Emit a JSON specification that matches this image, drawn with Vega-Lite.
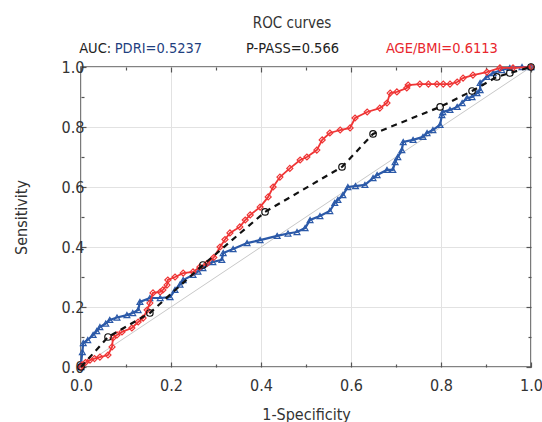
{
  "$schema": "https://vega.github.io/schema/vega-lite/v6.json",
  "width": 450,
  "height": 300,
  "autosize": "none",
  "padding": {"left": 81, "top": 67, "right": 11, "bottom": 55},
  "config": {
    "font": "Liberation Sans Narrow, DejaVu Sans Condensed, Arial Narrow, sans-serif",
    "view": {"stroke": "#5a5a5a", "strokeWidth": 1.6},
    "axis": {"labelFont": "Liberation Sans Narrow, DejaVu Sans Condensed, sans-serif", "titleFont": "Liberation Sans Narrow, DejaVu Sans Condensed, sans-serif"}
  },
  "datasets": {
    "diag": [{"fpr": 0, "tpr": 0}, {"fpr": 1, "tpr": 1}],
    "roc": [
      {"series": "PDRI", "fpr": 0, "tpr": 0},
      {"series": "PDRI", "fpr": 0, "tpr": 0.01},
      {"series": "PDRI", "fpr": 0.003, "tpr": 0.05},
      {"series": "PDRI", "fpr": 0.005, "tpr": 0.08},
      {"series": "PDRI", "fpr": 0.015, "tpr": 0.09},
      {"series": "PDRI", "fpr": 0.027, "tpr": 0.107},
      {"series": "PDRI", "fpr": 0.035, "tpr": 0.12},
      {"series": "PDRI", "fpr": 0.042, "tpr": 0.133},
      {"series": "PDRI", "fpr": 0.055, "tpr": 0.145},
      {"series": "PDRI", "fpr": 0.064, "tpr": 0.157},
      {"series": "PDRI", "fpr": 0.08, "tpr": 0.165},
      {"series": "PDRI", "fpr": 0.102, "tpr": 0.173},
      {"series": "PDRI", "fpr": 0.115, "tpr": 0.18},
      {"series": "PDRI", "fpr": 0.127, "tpr": 0.19},
      {"series": "PDRI", "fpr": 0.131, "tpr": 0.217},
      {"series": "PDRI", "fpr": 0.153, "tpr": 0.23},
      {"series": "PDRI", "fpr": 0.176, "tpr": 0.23},
      {"series": "PDRI", "fpr": 0.198, "tpr": 0.233},
      {"series": "PDRI", "fpr": 0.209, "tpr": 0.257},
      {"series": "PDRI", "fpr": 0.22, "tpr": 0.275},
      {"series": "PDRI", "fpr": 0.227, "tpr": 0.29},
      {"series": "PDRI", "fpr": 0.249, "tpr": 0.307},
      {"series": "PDRI", "fpr": 0.26, "tpr": 0.318},
      {"series": "PDRI", "fpr": 0.271, "tpr": 0.33},
      {"series": "PDRI", "fpr": 0.293, "tpr": 0.35},
      {"series": "PDRI", "fpr": 0.313, "tpr": 0.357},
      {"series": "PDRI", "fpr": 0.316, "tpr": 0.38},
      {"series": "PDRI", "fpr": 0.338, "tpr": 0.393},
      {"series": "PDRI", "fpr": 0.369, "tpr": 0.413},
      {"series": "PDRI", "fpr": 0.398, "tpr": 0.423},
      {"series": "PDRI", "fpr": 0.436, "tpr": 0.437},
      {"series": "PDRI", "fpr": 0.46, "tpr": 0.445},
      {"series": "PDRI", "fpr": 0.48, "tpr": 0.45},
      {"series": "PDRI", "fpr": 0.498, "tpr": 0.463},
      {"series": "PDRI", "fpr": 0.509, "tpr": 0.49},
      {"series": "PDRI", "fpr": 0.531, "tpr": 0.503},
      {"series": "PDRI", "fpr": 0.553, "tpr": 0.52},
      {"series": "PDRI", "fpr": 0.564, "tpr": 0.547},
      {"series": "PDRI", "fpr": 0.571, "tpr": 0.557},
      {"series": "PDRI", "fpr": 0.582, "tpr": 0.573},
      {"series": "PDRI", "fpr": 0.593, "tpr": 0.6},
      {"series": "PDRI", "fpr": 0.61, "tpr": 0.603},
      {"series": "PDRI", "fpr": 0.631, "tpr": 0.607},
      {"series": "PDRI", "fpr": 0.649, "tpr": 0.63},
      {"series": "PDRI", "fpr": 0.658, "tpr": 0.64},
      {"series": "PDRI", "fpr": 0.68, "tpr": 0.657},
      {"series": "PDRI", "fpr": 0.693, "tpr": 0.657},
      {"series": "PDRI", "fpr": 0.698, "tpr": 0.683},
      {"series": "PDRI", "fpr": 0.704, "tpr": 0.7},
      {"series": "PDRI", "fpr": 0.713, "tpr": 0.723},
      {"series": "PDRI", "fpr": 0.716, "tpr": 0.75},
      {"series": "PDRI", "fpr": 0.738, "tpr": 0.757},
      {"series": "PDRI", "fpr": 0.76, "tpr": 0.767},
      {"series": "PDRI", "fpr": 0.769, "tpr": 0.78},
      {"series": "PDRI", "fpr": 0.782, "tpr": 0.79},
      {"series": "PDRI", "fpr": 0.798, "tpr": 0.807},
      {"series": "PDRI", "fpr": 0.802, "tpr": 0.84},
      {"series": "PDRI", "fpr": 0.804, "tpr": 0.85},
      {"series": "PDRI", "fpr": 0.82, "tpr": 0.857},
      {"series": "PDRI", "fpr": 0.836, "tpr": 0.867},
      {"series": "PDRI", "fpr": 0.847, "tpr": 0.88},
      {"series": "PDRI", "fpr": 0.858, "tpr": 0.897},
      {"series": "PDRI", "fpr": 0.869, "tpr": 0.9},
      {"series": "PDRI", "fpr": 0.88, "tpr": 0.913},
      {"series": "PDRI", "fpr": 0.887, "tpr": 0.923},
      {"series": "PDRI", "fpr": 0.887, "tpr": 0.947},
      {"series": "PDRI", "fpr": 0.902, "tpr": 0.967},
      {"series": "PDRI", "fpr": 0.916, "tpr": 0.98},
      {"series": "PDRI", "fpr": 0.935, "tpr": 0.99},
      {"series": "PDRI", "fpr": 0.953, "tpr": 0.997},
      {"series": "PDRI", "fpr": 0.98, "tpr": 1},
      {"series": "PDRI", "fpr": 1, "tpr": 1},

      {"series": "AGE/BMI", "fpr": 0, "tpr": 0},
      {"series": "AGE/BMI", "fpr": 0.002, "tpr": 0.007},
      {"series": "AGE/BMI", "fpr": 0.01, "tpr": 0.015},
      {"series": "AGE/BMI", "fpr": 0.02, "tpr": 0.023},
      {"series": "AGE/BMI", "fpr": 0.03, "tpr": 0.028},
      {"series": "AGE/BMI", "fpr": 0.042, "tpr": 0.033},
      {"series": "AGE/BMI", "fpr": 0.06, "tpr": 0.04},
      {"series": "AGE/BMI", "fpr": 0.069, "tpr": 0.067},
      {"series": "AGE/BMI", "fpr": 0.071, "tpr": 0.097},
      {"series": "AGE/BMI", "fpr": 0.08, "tpr": 0.107},
      {"series": "AGE/BMI", "fpr": 0.091, "tpr": 0.117},
      {"series": "AGE/BMI", "fpr": 0.113, "tpr": 0.13},
      {"series": "AGE/BMI", "fpr": 0.127, "tpr": 0.15},
      {"series": "AGE/BMI", "fpr": 0.138, "tpr": 0.163},
      {"series": "AGE/BMI", "fpr": 0.147, "tpr": 0.19},
      {"series": "AGE/BMI", "fpr": 0.153, "tpr": 0.213},
      {"series": "AGE/BMI", "fpr": 0.16, "tpr": 0.247},
      {"series": "AGE/BMI", "fpr": 0.176, "tpr": 0.25},
      {"series": "AGE/BMI", "fpr": 0.182, "tpr": 0.257},
      {"series": "AGE/BMI", "fpr": 0.191, "tpr": 0.273},
      {"series": "AGE/BMI", "fpr": 0.193, "tpr": 0.29},
      {"series": "AGE/BMI", "fpr": 0.209, "tpr": 0.3},
      {"series": "AGE/BMI", "fpr": 0.227, "tpr": 0.313},
      {"series": "AGE/BMI", "fpr": 0.249, "tpr": 0.317},
      {"series": "AGE/BMI", "fpr": 0.264, "tpr": 0.333},
      {"series": "AGE/BMI", "fpr": 0.28, "tpr": 0.345},
      {"series": "AGE/BMI", "fpr": 0.295, "tpr": 0.365},
      {"series": "AGE/BMI", "fpr": 0.309, "tpr": 0.4},
      {"series": "AGE/BMI", "fpr": 0.32, "tpr": 0.425},
      {"series": "AGE/BMI", "fpr": 0.331, "tpr": 0.447},
      {"series": "AGE/BMI", "fpr": 0.353, "tpr": 0.467},
      {"series": "AGE/BMI", "fpr": 0.365, "tpr": 0.49},
      {"series": "AGE/BMI", "fpr": 0.376, "tpr": 0.507},
      {"series": "AGE/BMI", "fpr": 0.398, "tpr": 0.533},
      {"series": "AGE/BMI", "fpr": 0.416, "tpr": 0.567},
      {"series": "AGE/BMI", "fpr": 0.427, "tpr": 0.6},
      {"series": "AGE/BMI", "fpr": 0.442, "tpr": 0.633},
      {"series": "AGE/BMI", "fpr": 0.464, "tpr": 0.662},
      {"series": "AGE/BMI", "fpr": 0.487, "tpr": 0.69},
      {"series": "AGE/BMI", "fpr": 0.502, "tpr": 0.7},
      {"series": "AGE/BMI", "fpr": 0.524, "tpr": 0.723},
      {"series": "AGE/BMI", "fpr": 0.536, "tpr": 0.757},
      {"series": "AGE/BMI", "fpr": 0.553, "tpr": 0.78},
      {"series": "AGE/BMI", "fpr": 0.576, "tpr": 0.79},
      {"series": "AGE/BMI", "fpr": 0.598, "tpr": 0.797},
      {"series": "AGE/BMI", "fpr": 0.609, "tpr": 0.83},
      {"series": "AGE/BMI", "fpr": 0.636, "tpr": 0.85},
      {"series": "AGE/BMI", "fpr": 0.664, "tpr": 0.863},
      {"series": "AGE/BMI", "fpr": 0.68, "tpr": 0.88},
      {"series": "AGE/BMI", "fpr": 0.687, "tpr": 0.913},
      {"series": "AGE/BMI", "fpr": 0.702, "tpr": 0.917},
      {"series": "AGE/BMI", "fpr": 0.724, "tpr": 0.93},
      {"series": "AGE/BMI", "fpr": 0.727, "tpr": 0.94},
      {"series": "AGE/BMI", "fpr": 0.753, "tpr": 0.943},
      {"series": "AGE/BMI", "fpr": 0.772, "tpr": 0.943},
      {"series": "AGE/BMI", "fpr": 0.791, "tpr": 0.943},
      {"series": "AGE/BMI", "fpr": 0.805, "tpr": 0.943},
      {"series": "AGE/BMI", "fpr": 0.82, "tpr": 0.943},
      {"series": "AGE/BMI", "fpr": 0.836, "tpr": 0.95},
      {"series": "AGE/BMI", "fpr": 0.849, "tpr": 0.963},
      {"series": "AGE/BMI", "fpr": 0.871, "tpr": 0.973},
      {"series": "AGE/BMI", "fpr": 0.902, "tpr": 0.983},
      {"series": "AGE/BMI", "fpr": 0.931, "tpr": 0.997},
      {"series": "AGE/BMI", "fpr": 0.96, "tpr": 0.997},
      {"series": "AGE/BMI", "fpr": 1, "tpr": 1},

      {"series": "P-PASS", "fpr": 0, "tpr": 0},
      {"series": "P-PASS", "fpr": 0.06, "tpr": 0.1},
      {"series": "P-PASS", "fpr": 0.153, "tpr": 0.18},
      {"series": "P-PASS", "fpr": 0.271, "tpr": 0.34},
      {"series": "P-PASS", "fpr": 0.409, "tpr": 0.517},
      {"series": "P-PASS", "fpr": 0.58, "tpr": 0.667},
      {"series": "P-PASS", "fpr": 0.649, "tpr": 0.777},
      {"series": "P-PASS", "fpr": 0.798, "tpr": 0.867},
      {"series": "P-PASS", "fpr": 0.869, "tpr": 0.92},
      {"series": "P-PASS", "fpr": 0.924, "tpr": 0.967},
      {"series": "P-PASS", "fpr": 0.953, "tpr": 0.98},
      {"series": "P-PASS", "fpr": 1, "tpr": 1}
    ]
  },
  "layer": [
    {
      "data": {"name": "diag"},
      "mark": {"type": "line", "color": "#c8c8c8", "strokeWidth": 1},
      "encoding": {
        "x": {
          "field": "fpr", "type": "quantitative",
          "scale": {"domain": [0, 1], "nice": false, "zero": false},
          "axis": {
            "orient": "bottom",
            "values": [0, 0.1, 0.2, 0.3, 0.4, 0.5, 0.6, 0.7, 0.8, 0.9, 1],
            "labelExpr": "abs(datum.value*5 - round(datum.value*5)) < 0.01 ? format(datum.value, '.1f') : ''",
            "labelFlush": false, "labelOverlap": false, "labelBound": false,
            "labelFontSize": 16, "labelColor": "#333333", "labelPadding": 15,
            "domain": false,
            "tickColor": "#555555", "tickWidth": 1.2,
            "tickSize": {"condition": {"test": "abs(datum.value*5 - round(datum.value*5)) < 0.01", "value": -5}, "value": -3},
            "grid": true, "gridColor": "#e2e2e2", "gridWidth": 1,
            "gridOpacity": {"condition": {"test": "abs(datum.value*5 - round(datum.value*5)) < 0.01", "value": 1}, "value": 0},
            "title": "1-Specificity", "titleFontSize": 16, "titleFontWeight": "normal", "titleColor": "#333333", "titlePadding": 11
          }
        },
        "y": {
          "field": "tpr", "type": "quantitative",
          "scale": {"domain": [0, 1], "nice": false, "zero": false},
          "axis": {
            "orient": "left",
            "values": [0, 0.1, 0.2, 0.3, 0.4, 0.5, 0.6, 0.7, 0.8, 0.9, 1],
            "labelExpr": "abs(datum.value*5 - round(datum.value*5)) < 0.01 ? format(datum.value, '.1f') : ''",
            "labelFlush": false, "labelOverlap": false, "labelBound": false,
            "labelFontSize": 16, "labelColor": "#333333", "labelPadding": 2,
            "labelBaseline": "middle",
            "domain": false,
            "tickColor": "#555555", "tickWidth": 1.2,
            "tickSize": {"condition": {"test": "abs(datum.value*5 - round(datum.value*5)) < 0.01", "value": -5}, "value": -3},
            "grid": true, "gridColor": "#e2e2e2", "gridWidth": 1,
            "gridOpacity": {"condition": {"test": "abs(datum.value*5 - round(datum.value*5)) < 0.01", "value": 1}, "value": 0},
            "title": "Sensitivity", "titleFontSize": 16, "titleFontWeight": "normal", "titleColor": "#333333", "titlePadding": 32
          }
        }
      }
    },
    {
      "data": {"name": "diag"},
      "mark": {"type": "line", "opacity": 0},
      "encoding": {
        "x": {
          "field": "fpr", "type": "quantitative",
          "scale": {"domain": [0, 1], "nice": false, "zero": false},
          "axis": {
            "orient": "top",
            "values": [0, 0.1, 0.2, 0.3, 0.4, 0.5, 0.6, 0.7, 0.8, 0.9, 1],
            "labels": false, "domain": false, "grid": false, "title": null,
            "tickColor": "#555555", "tickWidth": 1.2,
            "tickSize": {"condition": {"test": "abs(datum.value*5 - round(datum.value*5)) < 0.01", "value": -5}, "value": -3}
          }
        },
        "y": {
          "field": "tpr", "type": "quantitative",
          "scale": {"domain": [0, 1], "nice": false, "zero": false},
          "axis": {
            "orient": "right",
            "values": [0, 0.1, 0.2, 0.3, 0.4, 0.5, 0.6, 0.7, 0.8, 0.9, 1],
            "labels": false, "domain": false, "grid": false, "title": null,
            "tickColor": "#555555", "tickWidth": 1.2,
            "tickSize": {"condition": {"test": "abs(datum.value*5 - round(datum.value*5)) < 0.01", "value": -5}, "value": -3}
          }
        }
      }
    },
    {
      "data": {"name": "roc"},
      "transform": [{"filter": "datum.series === 'PDRI'"}],
      "mark": {"type": "line", "color": "#2b59a8", "strokeWidth": 2.2, "point": {"shape": "triangle-up", "filled": false, "size": 34, "strokeWidth": 1.2, "color": "#2b59a8"}},
      "encoding": {
        "x": {"field": "fpr", "type": "quantitative", "scale": {"domain": [0, 1]}, "axis": null},
        "y": {"field": "tpr", "type": "quantitative", "scale": {"domain": [0, 1]}, "axis": null},
        "order": {"value": null}
      }
    },
    {
      "data": {"name": "roc"},
      "transform": [{"filter": "datum.series === 'AGE/BMI'"}],
      "mark": {"type": "line", "color": "#ef3535", "strokeWidth": 1.8, "point": {"shape": "diamond", "filled": false, "size": 36, "strokeWidth": 1.2, "color": "#ef3535"}},
      "encoding": {
        "x": {"field": "fpr", "type": "quantitative", "scale": {"domain": [0, 1]}, "axis": null},
        "y": {"field": "tpr", "type": "quantitative", "scale": {"domain": [0, 1]}, "axis": null},
        "order": {"value": null}
      }
    },
    {
      "data": {"name": "roc"},
      "transform": [{"filter": "datum.series === 'P-PASS'"}],
      "mark": {"type": "line", "color": "#111111", "strokeWidth": 2.2, "strokeDash": [6, 5], "point": {"shape": "circle", "filled": false, "size": 42, "strokeWidth": 1.2, "color": "#111111"}},
      "encoding": {
        "x": {"field": "fpr", "type": "quantitative", "scale": {"domain": [0, 1]}, "axis": null},
        "y": {"field": "tpr", "type": "quantitative", "scale": {"domain": [0, 1]}, "axis": null},
        "order": {"value": null}
      }
    },
    {
      "data": {"values": [{}]},
      "mark": {"type": "text", "text": "ROC curves", "fontSize": 15, "color": "#333333", "align": "center", "baseline": "middle"},
      "encoding": {
        "x": {"datum": 0.469, "type": "quantitative", "scale": {"domain": [0, 1]}, "axis": null},
        "y": {"datum": 1.148, "type": "quantitative", "scale": {"domain": [0, 1]}, "axis": null}
      }
    },
    {
      "data": {"values": [{}]},
      "mark": {"type": "text", "text": "AUC:", "fontSize": 14.5, "color": "#222222", "align": "left", "baseline": "middle"},
      "encoding": {
        "x": {"datum": -0.004, "type": "quantitative", "scale": {"domain": [0, 1]}, "axis": null},
        "y": {"datum": 1.06, "type": "quantitative", "scale": {"domain": [0, 1]}, "axis": null}
      }
    },
    {
      "data": {"values": [{}]},
      "mark": {"type": "text", "text": "PDRI=0.5237", "fontSize": 14.5, "color": "#1f3f7f", "align": "left", "baseline": "middle"},
      "encoding": {
        "x": {"datum": 0.075, "type": "quantitative", "scale": {"domain": [0, 1]}, "axis": null},
        "y": {"datum": 1.06, "type": "quantitative", "scale": {"domain": [0, 1]}, "axis": null}
      }
    },
    {
      "data": {"values": [{}]},
      "mark": {"type": "text", "text": "P-PASS=0.566", "fontSize": 14.5, "color": "#222222", "align": "center", "baseline": "middle"},
      "encoding": {
        "x": {"datum": 0.47, "type": "quantitative", "scale": {"domain": [0, 1]}, "axis": null},
        "y": {"datum": 1.06, "type": "quantitative", "scale": {"domain": [0, 1]}, "axis": null}
      }
    },
    {
      "data": {"values": [{}]},
      "mark": {"type": "text", "text": "AGE/BMI=0.6113", "fontSize": 14.5, "color": "#e8262d", "align": "center", "baseline": "middle"},
      "encoding": {
        "x": {"datum": 0.802, "type": "quantitative", "scale": {"domain": [0, 1]}, "axis": null},
        "y": {"datum": 1.06, "type": "quantitative", "scale": {"domain": [0, 1]}, "axis": null}
      }
    }
  ],
  "resolve": {"axis": {"x": "independent", "y": "independent"}}
}
